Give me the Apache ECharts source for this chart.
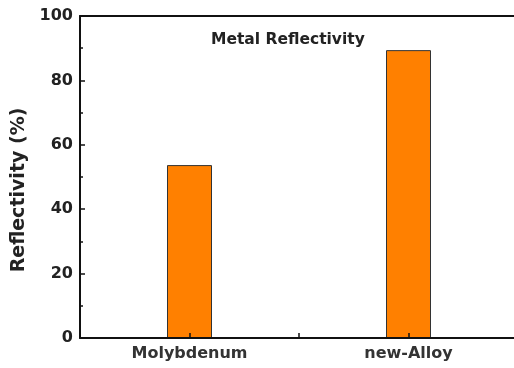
<!DOCTYPE html>
<html>
<head>
<meta charset="utf-8">
<script src="https://cdn.jsdelivr.net/npm/echarts@6/dist/echarts.min.js"></script>
<style>
  html, body { margin: 0; padding: 0; background: #fff; }
  #chart { width: 514px; height: 368px; }
</style>
</head>
<body>
<div id="chart"></div>
<script>
// Metal reflectivity comparison
const categories = ['Molybdenum', 'new-Alloy'];
const reflectivity = [53.7, 89.4];
const yTicks = [0, 20, 40, 60, 80, 100];

const font = '"DejaVu Sans", "Liberation Sans", Arial, sans-serif';
const chart = echarts.init(document.getElementById('chart'), null, { renderer: 'canvas' });

// Categories sit at positions 1, 2 on a numeric axis so ticks fall at centres and midpoints
const barData = categories.map((c, i) => [i + 1, reflectivity[i]]);

chart.setOption({
  animation: false,
  backgroundColor: '#fff',
  title: {
    text: 'Metal Reflectivity',
    left: 206, top: 27,
    textStyle: { fontFamily: font, fontWeight: 'bold', fontSize: 15.5, color: '#222' }
  },
  grid: { left: 80, top: 16, width: 438, height: 322, outerBoundsMode: 'none', containLabel: false },
  xAxis: [{
    type: 'value', min: 0.5, max: 2.5, interval: 0.5, z: 10,
    axisLine: { lineStyle: { color: '#111', width: 2 } },
    axisTick: { inside: true, length: 5, lineStyle: { color: '#111', width: 1.5 } },
    splitLine: { show: false },
    axisLabel: {
      margin: 8,
      fontFamily: font, fontWeight: 'bold', fontSize: 16, color: '#333',
      formatter: v => (Number.isInteger(v) && categories[v - 1]) ? categories[v - 1] : ''
    }
  }, {
    type: 'value', position: 'top', min: 0.5, max: 2.5, z: 10,
    axisLine: { show: true, onZero: false, lineStyle: { color: '#111', width: 2 } },
    axisTick: { show: false }, axisLabel: { show: false }, splitLine: { show: false }
  }],
  yAxis: {
    type: 'value', min: yTicks[0], max: yTicks[yTicks.length - 1], interval: 20, z: 10,
    name: 'Reflectivity (%)', nameLocation: 'middle', nameGap: 44,
    nameTextStyle: { fontFamily: font, fontWeight: 'bold', fontSize: 19, color: '#222', padding: [0, 26, 0, 0] },
    axisLine: { show: true, lineStyle: { color: '#111', width: 2 } },
    axisTick: { inside: true, length: 5, lineStyle: { color: '#111', width: 1.5 } },
    minorTick: { show: true, splitNumber: 2, length: 3, lineStyle: { color: '#111', width: 1.5 } },
    splitLine: { show: false },
    axisLabel: { margin: 7, fontFamily: font, fontWeight: 'bold', fontSize: 16, color: '#222' }
  },
  series: [{
    type: 'bar',
    data: barData,
    barWidth: 45,
    itemStyle: { color: '#FF8000', borderColor: '#333', borderWidth: 1 }
  }]
});
</script>
</body>
</html>
